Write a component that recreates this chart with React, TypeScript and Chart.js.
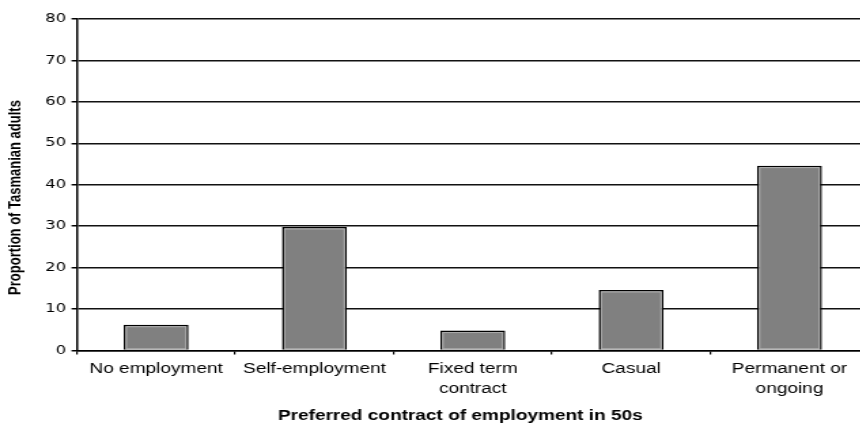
import React, { useEffect, useRef } from "react";
import { Chart, registerables } from "chart.js";

Chart.register(...registerables);

// Survey result: preferred type of employment contract in one's 50s
const categories: (string | string[])[] = [
  "No employment",
  "Self-employment",
  ["Fixed term", "contract"],
  "Casual",
  ["Permanent or", "ongoing"],
];
const proportions = [6.2, 29.8, 4.8, 14.6, 44.6];
const yMin = 0;
const yMax = 80;
const yStep = 10;
const xAxisTitle = "Preferred contract of employment in 50s";
const yAxisTitle = "Proportion of Tasmanian adults";

// The figure is drawn on a narrower canvas and widened with CSS,
// which gives the broad lettering of the printed figure.
const CANVAS_W = 640;
const CANVAS_H = 430;
const STRETCH = 1.36;

const SANS = '"Liberation Sans", Arial, Helvetica, sans-serif';

// Light inner edge on each bar, just inside the black outline.
const barBevel = {
  id: "barBevel",
  afterDatasetsDraw(chart: any) {
    const ctx = chart.ctx;
    const meta = chart.getDatasetMeta(0);
    ctx.save();
    ctx.strokeStyle = "#b4b4b4";
    ctx.lineWidth = 0.8;
    meta.data.forEach((bar: any) => {
      const { x, y, base, width } = bar.getProps(["x", "y", "base", "width"], true);
      const inset = 2;
      ctx.strokeRect(x - width / 2 + inset, y + inset, width - inset * 2, base - y - inset - 1);
    });
    ctx.restore();
  },
};

// Axis captions.
const axisCaptions = {
  id: "axisCaptions",
  afterDraw(chart: any) {
    const ctx = chart.ctx;
    ctx.save();
    ctx.fillStyle = "#000";
    ctx.textAlign = "center";
    ctx.textBaseline = "middle";

    ctx.font = `bold 14px ${SANS}`;
    ctx.fillText(xAxisTitle, 338.6, 416);

    ctx.translate(11, 197.5);
    ctx.rotate(-Math.PI / 2);
    ctx.font = `bold 13px ${SANS}`;
    ctx.fillText(yAxisTitle, 0, 0);
    ctx.restore();
  },
};

export default function App() {
  const canvasRef = useRef<HTMLCanvasElement | null>(null);

  useEffect(() => {
    const canvas = canvasRef.current;
    if (!canvas) return;
    const chart = new Chart(canvas, {
      type: "bar",
      data: {
        labels: categories,
        datasets: [
          {
            data: proportions,
            backgroundColor: "#808080",
            borderColor: "#000",
            borderWidth: 1.5,
            barPercentage: 0.41,
            categoryPercentage: 1,
          },
        ],
      },
      options: {
        responsive: false,
        animation: false,
        devicePixelRatio: 1,
        layout: { padding: { left: 0, right: 1, top: 19, bottom: 0 } },
        plugins: {
          legend: { display: false },
          tooltip: { enabled: false },
          title: { display: false },
        },
        scales: {
          x: {
            afterFit(scale: any) {
              scale.height = 79.5;
            },
            grid: {
              offset: true,
              drawOnChartArea: false,
              drawTicks: true,
              tickLength: 4,
              color: "#000",
              lineWidth: 1.2,
            },
            border: { display: true, color: "#000", width: 1.5 },
            ticks: {
              color: "#000",
              padding: 5,
              maxRotation: 0,
              autoSkip: false,
              font: { family: SANS, size: 14, lineHeight: 1.43 },
            },
          },
          y: {
            min: yMin,
            max: yMax,
            afterFit(scale: any) {
              scale.width = 56.6;
            },
            grid: {
              color: "#111",
              lineWidth: 1.5,
              drawTicks: true,
              tickLength: 4,
              tickColor: "#000",
            },
            border: { display: true, color: "#000", width: 1.5 },
            ticks: {
              stepSize: yStep,
              color: "#000",
              padding: 4,
              font: { family: '"DejaVu Sans", Arial, sans-serif', size: 12 },
            },
          },
        },
      },
      plugins: [barBevel, axisCaptions],
    });
    return () => chart.destroy();
  }, []);

  return (
    <div
      style={{
        position: "fixed",
        left: 0,
        top: 0,
        width: 860,
        height: 430,
        overflow: "hidden",
        background: "#fff",
      }}
    >
      <canvas
        ref={canvasRef}
        width={CANVAS_W}
        height={CANVAS_H}
        style={{ display: "block", width: `${CANVAS_W * STRETCH}px`, height: `${CANVAS_H}px` }}
      />
    </div>
  );
}
